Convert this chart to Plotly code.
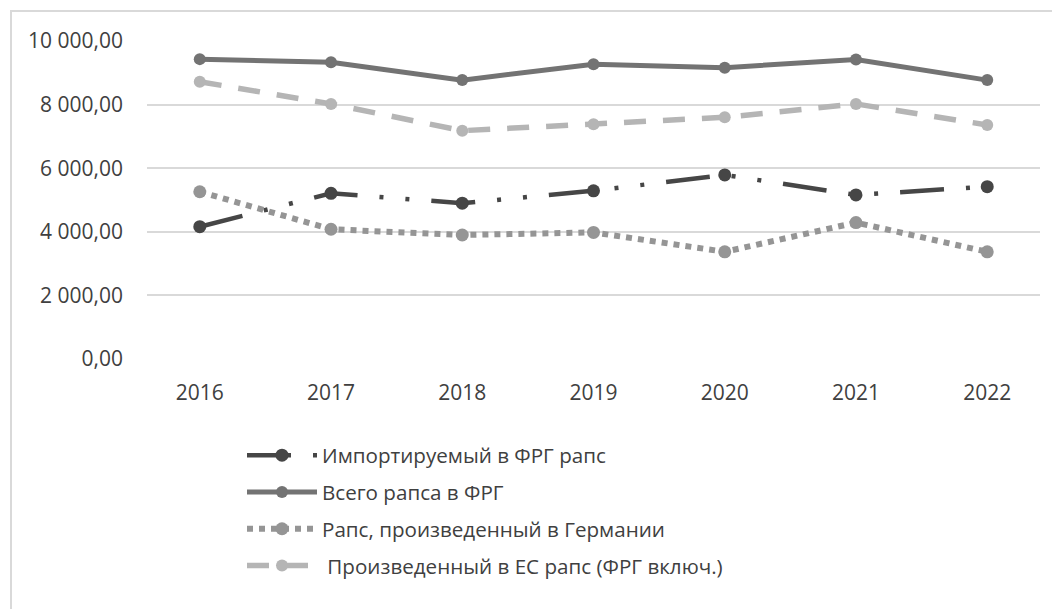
import plotly.graph_objects as go

years = ["2016", "2017", "2018", "2019", "2020", "2021", "2022"]
imported = [4160, 5210, 4900, 5290, 5790, 5160, 5420]
total = [9430, 9330, 8770, 9270, 9160, 9420, 8770]
germany = [5260, 4080, 3900, 3980, 3370, 4290, 3370]
eu = [8720, 8020, 7180, 7380, 7600, 8020, 7360]

names = [
    "Импортируемый в ФРГ рапс",
    "Всего рапса в ФРГ",
    "Рапс, произведенный в Германии",
    " Произведенный в ЕС рапс (ФРГ включ.)",
]

# page body has an 8px margin; figure sized so that it fits the 1060x609 window
OFF = 8
W, H = 1060 - OFF, 609 - OFF
ml, mt = 147 - OFF, 41 - OFF
pw, ph = 893, 318
mr = W - ml - pw
mb = H - mt - ph
FONT = "Open Sans"
TXT = "#404040"

fig = go.Figure()
fig.add_trace(go.Scatter(
    x=years, y=imported, name=names[0], mode="lines+markers",
    line=dict(color="#464646", width=4.5, dash="44px,22px,4px,22px,4px,22px"),
    marker=dict(size=13, color="#464646"), legendgroup="a"))
fig.add_trace(go.Scatter(
    x=years, y=total, name=names[1], mode="lines+markers",
    line=dict(color="#737373", width=5),
    marker=dict(size=12, color="#737373"), legendgroup="b"))
fig.add_trace(go.Scatter(
    x=years, y=germany, name=names[2], mode="lines+markers",
    line=dict(color="#959595", width=6, dash="6px,6px"),
    marker=dict(size=13, color="#959595"), legendgroup="c"))
fig.add_trace(go.Scatter(
    x=years, y=eu, name=names[3], mode="lines+markers",
    line=dict(color="#b5b5b5", width=5.5, dash="22px,17px"),
    marker=dict(size=12, color="#b5b5b5"), legendgroup="d"))

# light outer frame of the chart area
fx0 = 11 - OFF
fy0 = 11 - OFF
fig.add_shape(type="rect", xref="paper", yref="paper",
              x0=(fx0 - ml) / pw, x1=(W + 20 - ml) / pw,
              y0=-(H + 20 - mt - ph) / ph, y1=(mt + ph - fy0) / ph,
              line=dict(color="#d9d9d9", width=2), layer="below")

fig.update_layout(
    width=W, height=H,
    margin=dict(l=ml, r=mr, t=mt, b=mb),
    paper_bgcolor="white", plot_bgcolor="white",
    separators=", ",
    font=dict(family=FONT, size=21, color=TXT),
    showlegend=True,
    legend=dict(
        x=(242 - 147) / pw, y=-0.24, xanchor="left", yanchor="top",
        orientation="v", traceorder="grouped", tracegroupgap=7,
        font=dict(family=FONT, size=20.6, color=TXT),
        itemwidth=70, bgcolor="rgba(0,0,0,0)",
    ),
    xaxis=dict(
        type="category", showgrid=False, showline=False, zeroline=False,
        ticks="", ticklabelstandoff=19,
        tickfont=dict(family=FONT, size=21, color=TXT),
    ),
    yaxis=dict(
        range=[0, 10000], tickvals=[0, 2000, 4000, 6000, 8000, 10000],
        tickformat=",.2f", showgrid=True, gridcolor="#d9d9d9", gridwidth=2,
        showline=False, zeroline=False, ticks="", ticklabelstandoff=23,
        tickfont=dict(family=FONT, size=21, color=TXT),
    ),
)

fig.write_html("out.html")
